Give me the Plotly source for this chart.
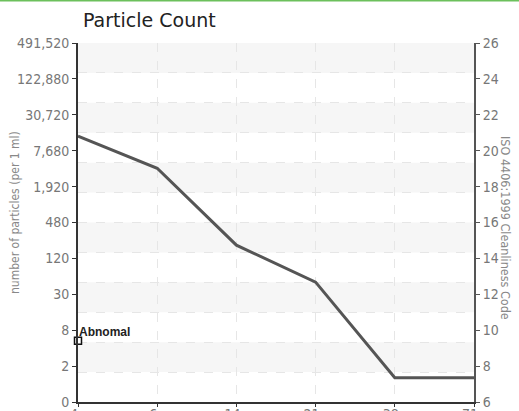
import math
import plotly.graph_objects as go

# ---- data ----
categories = ["4µ", "6µ", "14µ", "21µ", "38µ", "71µ"]
particle_counts = [13500, 3900, 200, 48, 1.2, 1.2]   # per 1 ml
abnormal_count = [5]
left_tick_vals = [0.46875, 1.875, 7.5, 30, 120, 480, 1920, 7680, 30720, 122880, 491520]
left_tick_text = ["0", "2", "8", "30", "120", "480", "1,920", "7,680", "30,720", "122,880", "491,520"]
iso_codes = [6, 8, 10, 12, 14, 16, 18, 20, 22, 24, 26]
grid_divisions = list(range(13))

xs = list(range(len(categories)))
W, H = 519, 411
ML, MR, MT, MB = 78, 45, 43, 9
PW, PH = W - ML - MR, H - MT - MB

tick_font = dict(family="DejaVu Sans Condensed", size=14, color="#777")

fig = go.Figure()
fig.add_trace(go.Scatter(x=xs, y=particle_counts, mode="lines",
                         line=dict(color="#555", width=3), showlegend=False,
                         hoverinfo="skip"))
fig.add_trace(go.Scatter(x=[0], y=abnormal_count, mode="markers",
                         marker=dict(symbol="square", size=7, color="white",
                                     line=dict(color="#111", width=1.5)),
                         cliponaxis=False, showlegend=False))
fig.add_trace(go.Scatter(x=[None], y=[None], yaxis="y2", showlegend=False))
fig.add_trace(go.Scatter(x=[None], y=[None], yaxis="y3", showlegend=False))

shapes = []
for k in range(1, 12, 2):
    shapes.append(dict(type="rect", xref="paper", yref="y3", x0=0, x1=1,
                       y0=k, y1=k + 1, fillcolor="#f6f6f6", line=dict(width=0),
                       layer="below"))
shapes.append(dict(type="line", xref="paper", yref="paper", x0=-ML / PW, x1=(PW + MR) / PW,
                   y0=1 + (MT - 0.5) / PH, y1=1 + (MT - 0.5) / PH,
                   line=dict(color="#6cc05c", width=2)))

fig.update_layout(
    width=W, height=H, margin=dict(l=ML, r=MR, t=MT, b=MB, autoexpand=False),
    paper_bgcolor="white", plot_bgcolor="white",
    xaxis=dict(range=[0, 5], tickvals=xs, ticktext=categories, showgrid=True,
               griddash="dash", gridcolor="#e6e6e6", gridwidth=1, zeroline=False,
               showline=True, linecolor="#333", linewidth=2, ticks="outside",
               ticklen=3, tickcolor="#333", tickfont=tick_font, automargin=False,
               ticklabelstandoff=-5),
    yaxis=dict(type="log", range=[math.log10(left_tick_vals[0]), math.log10(left_tick_vals[-1])],
               tickvals=left_tick_vals, ticktext=left_tick_text, showgrid=False,
               zeroline=False, showline=True, linecolor="#333", linewidth=2,
               ticks="outside", ticklen=4, tickcolor="#333", tickfont=tick_font,
               automargin=False),
    yaxis2=dict(overlaying="y", side="right", range=[6, 26], tickvals=iso_codes,
                showgrid=False, zeroline=False, showline=True, linecolor="#555",
                linewidth=2, ticks="outside", ticklen=4, tickcolor="#555",
                tickfont=tick_font, automargin=False),
    yaxis3=dict(overlaying="y", range=[0, 12], tickvals=grid_divisions, showgrid=True,
                griddash="dash", gridcolor="#e6e6e6", gridwidth=1, showticklabels=False,
                ticks="", showline=False, zeroline=False, automargin=False),
    shapes=shapes,
    annotations=[
        dict(text="Particle Count", xref="paper", yref="paper", x=3 / PW,
             y=1 + (MT - 20) / PH, xanchor="left", yanchor="middle", showarrow=False,
             font=dict(family="DejaVu Sans", size=19, color="#222")),
        dict(text="<b>Abnomal</b>", x=0, y=math.log10(abnormal_count[0]), xanchor="left",
             yanchor="bottom", yshift=0, xshift=-1, showarrow=False,
             font=dict(family="Liberation Sans", size=12, color="#222")),
        dict(text="number of particles (per 1 ml)", xref="paper", yref="paper",
             x=(15 - ML) / PW, y=1 - (213 - MT) / PH, textangle=-90, showarrow=False,
             xanchor="center", yanchor="middle",
             font=dict(family="DejaVu Sans Condensed", size=12, color="#888")),
        dict(text="ISO 4406:1999 Cleanliness Code", xref="paper", yref="paper",
             x=(506 - ML) / PW, y=1 - (228 - MT) / PH, textangle=90, showarrow=False,
             xanchor="center", yanchor="middle",
             font=dict(family="DejaVu Sans Condensed", size=12.5, color="#888")),
    ],
)
fig.write_html("out.html", config={"displayModeBar": False},
               post_script="document.body.style.margin='0';document.body.style.overflow='hidden';")
